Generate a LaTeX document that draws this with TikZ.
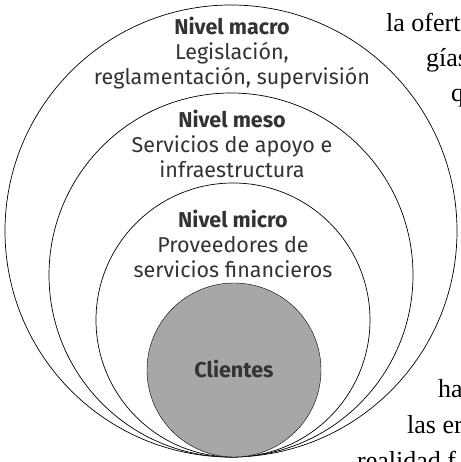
\documentclass[tikz,border=0pt]{standalone}
\usepackage{fontspec}
\setmainfont{Liberation Serif}
\setsansfont{Fira Sans}
\usepackage{tikz}
\usetikzlibrary{positioning}
\definecolor{clientgray}{HTML}{A7A7A9}
\definecolor{labeltext}{HTML}{333333}
\tikzstyle{ring} = [draw=black, line width=0.7pt, fill=white]
\tikzstyle{level} = [align=center, text=labeltext, font=\sffamily\fontsize{21.5}{25}\selectfont, inner sep=0pt]
\tikzstyle{page} = [anchor=base west, inner sep=0pt, font=\rmfamily\fontsize{26}{32}\selectfont]

\begin{document}
\begin{tikzpicture}[x=1pt, y=-1pt]
        \useasboundingbox (0,0) rectangle (460,462);
        \begin{scope}
        \clip (0,0) rectangle (460,462);
        % page text behind the rings
        \node[page] (t1) at (386,32) {la ofert};
        \node[page] (t2) at (426,67) {gías};
        \node[page] (t3) at (451,102) {q};
        \node[page] (t4) at (438,397) {ha};
        \node[page] (t5) at (407,433) {las er};
        \node[page] (t6) at (357,469) {realidad f};
        \end{scope}
        % rings, all touching at the bottom
        \draw[ring] (231,231) circle (226);
        \draw[ring] (231,275) circle (182);
        \draw[ring] (233,320) circle (137);
        \draw[ring, fill=clientgray, line width=0.4pt] (234,370) circle (87);
        \node[level] (macro) at (232,53) {\textbf{Nivel macro}\\Legislación,\\reglamentación, supervisión};
        \node[level] (meso) at (232,144) {\textbf{Nivel meso}\\Servicios de apoyo e\\infraestructura};
        \node[level] (micro) at (233,244) {\textbf{Nivel micro}\\Proveedores de\\servicios financieros};
        \node[level] (clientes) at (234,369) {\textbf{Clientes}};
\end{tikzpicture}
\end{document}
